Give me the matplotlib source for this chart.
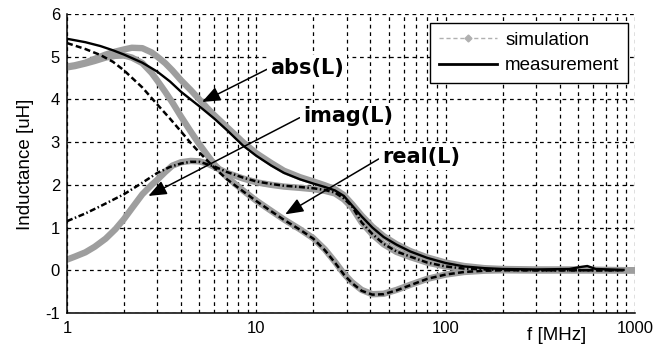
import matplotlib
matplotlib.use("Agg")
import matplotlib.pyplot as plt
from matplotlib.lines import Line2D

# ---- data -------------------------------------------------------------
# simulated inductance (black curves)
freq_sim = [1, 1.25, 1.5, 1.75, 2, 2.5, 3, 3.5, 4, 4.5, 5, 6, 7, 8.5, 10, 12, 14,
            17, 20, 23, 26, 29, 32, 36, 41, 47, 55, 65, 80, 100, 125, 160, 200,
            300, 450, 520, 560, 620, 870]
abs_sim = [5.42, 5.34, 5.25, 5.15, 5.05, 4.86, 4.65, 4.42, 4.18, 4.00, 3.84, 3.55,
           3.28, 2.92, 2.68, 2.45, 2.28, 2.13, 2.03, 1.95, 1.87, 1.74, 1.52, 1.26,
           1.00, 0.78, 0.60, 0.44, 0.29, 0.17, 0.09, 0.05, 0.03, 0.02, 0.03, 0.08,
           0.10, 0.03, 0.01]
real_sim = [5.32, 5.18, 5.04, 4.88, 4.68, 4.28, 3.88, 3.55, 3.25, 2.98, 2.76, 2.40,
            2.13, 1.85, 1.62, 1.38, 1.18, 0.95, 0.74, 0.47, 0.18, -0.10, -0.30,
            -0.48, -0.57, -0.56, -0.47, -0.35, -0.20, -0.10, -0.04, -0.01, 0.00,
            0.00, 0.00, 0.00, 0.00, 0.00, 0.00]
imag_sim = [1.15, 1.33, 1.50, 1.65, 1.78, 2.05, 2.28, 2.42, 2.50, 2.54, 2.54, 2.43,
            2.30, 2.17, 2.08, 2.02, 1.98, 1.95, 1.92, 1.88, 1.82, 1.68, 1.50, 1.12,
            0.85, 0.62, 0.44, 0.32, 0.18, 0.09, 0.04, 0.02, 0.01, 0.00, 0.00, 0.00,
            0.00, 0.00, 0.00]

# measured inductance (thick grey curves)
freq_meas = [1, 1.1, 1.25, 1.4, 1.6, 1.8, 2, 2.2, 2.5, 2.8, 3, 3.3, 3.6, 4, 4.5, 5,
             5.5, 6, 7, 8.5, 10, 12, 14, 17, 20, 23, 26, 29, 32, 36, 41, 47, 55, 65,
             80, 100, 125, 160, 200, 300, 500, 700, 1000]
abs_meas = [4.77, 4.80, 4.86, 4.95, 5.05, 5.12, 5.17, 5.21, 5.20, 5.10, 5.00, 4.85,
            4.68, 4.45, 4.22, 4.00, 3.80, 3.63, 3.35, 3.00, 2.74, 2.51, 2.33, 2.18,
            2.08, 1.99, 1.90, 1.76, 1.55, 1.28, 1.02, 0.80, 0.61, 0.45, 0.30, 0.18,
            0.10, 0.05, 0.03, 0.02, 0.02, 0.01, 0.00]
real_meas = [4.75, 4.78, 4.84, 4.90, 4.98, 5.02, 5.03, 4.98, 4.85, 4.62, 4.44, 4.18,
             3.93, 3.60, 3.25, 2.95, 2.70, 2.48, 2.18, 1.87, 1.63, 1.39, 1.19, 0.96,
             0.75, 0.49, 0.20, -0.08, -0.28, -0.46, -0.56, -0.55, -0.46, -0.34,
             -0.20, -0.10, -0.04, -0.01, 0.00, 0.00, 0.00, 0.00, 0.00]
imag_meas = [0.25, 0.32, 0.42, 0.55, 0.74, 0.96, 1.20, 1.45, 1.78, 2.00, 2.12, 2.30,
             2.45, 2.53, 2.56, 2.55, 2.50, 2.42, 2.28, 2.15, 2.06, 2.00, 1.96, 1.93,
             1.90, 1.86, 1.80, 1.66, 1.47, 1.12, 0.84, 0.61, 0.43, 0.31, 0.18, 0.09,
             0.04, 0.02, 0.01, 0.00, 0.00, 0.00, 0.00]

x_ticks = [1, 10, 100, 1000]
x_tick_labels = ["1", "10", "100", "1000"]
y_ticks = [-1, 0, 1, 2, 3, 4, 5, 6]

# curve annotations: label, label position, arrow tip (f [MHz], L [uH])
labels = ["abs(L)", "imag(L)", "real(L)"]
label_pos = [(11.8, 4.74), (17.6, 3.61), (46.0, 2.65)]
arrow_tip = [(5.17, 3.94), (2.69, 1.74), (14.2, 1.31)]

# ---- figure -----------------------------------------------------------
W, H = 672, 347
fig = plt.figure(figsize=(W / 100, H / 100), dpi=100)
ax = fig.add_axes([67 / W, 1 - 313 / H, 568 / W, 299 / H])

tick_font = "Liberation Sans"
grey = "#9e9e9e"

# measured curves: wide grey bands
for vals in (abs_meas, real_meas, imag_meas):
    ax.plot(freq_meas, vals, color=grey, lw=4.6, solid_capstyle="round",
            solid_joinstyle="round", zorder=3)

# simulated curves: thin black, one style per component
ax.plot(freq_sim, abs_sim, color="black", lw=1.7, zorder=4)
ax.plot(freq_sim, real_sim, color="black", lw=1.8, ls=(0, (2.4, 1.3)), zorder=4)
ax.plot(freq_sim, imag_sim, color="black", lw=1.8,
        ls=(0, (2.4, 1.0, 0.6, 1.0)), zorder=4)

ax.set_xscale("log")
ax.set_xlim(1, 1000)
ax.set_ylim(-1, 6)
ax.set_xticks(x_ticks)
ax.set_xticklabels(x_tick_labels)
ax.set_yticks(y_ticks)
ax.set_yticklabels([str(v) for v in y_ticks])

grid_style = dict(color="black", lw=0.9, ls=(0, (3, 3)))
ax.grid(True, which="major", axis="both", **grid_style)
ax.grid(True, which="minor", axis="x", **grid_style)
ax.set_axisbelow(True)

for side in ("top", "right"):
    ax.spines[side].set_visible(False)
for side in ("left", "bottom"):
    ax.spines[side].set_linewidth(1.1)
    ax.spines[side].set_zorder(5)

ax.tick_params(axis="both", which="both", direction="in", length=0)
ax.tick_params(axis="y", pad=5)
ax.tick_params(axis="x", pad=6)
for lab in ax.get_xticklabels() + ax.get_yticklabels():
    lab.set_fontfamily(tick_font)
    lab.set_fontsize(12)

fig.text(25 / W, 1 - 164 / H, "Inductance [uH]", rotation=90, ha="center",
         va="center", fontsize=13.5, family=tick_font)
fig.text(557 / W, 1 - 336 / H, "f [MHz]", ha="center", va="center",
         fontsize=13.5, family=tick_font)

# labels with arrows pointing at each component
for text, pos, tip in zip(labels, label_pos, arrow_tip):
    ax.annotate(text, xy=tip, xytext=pos, ha="left", va="center",
                fontsize=15, fontweight="bold", family="DejaVu Sans",
                bbox=dict(boxstyle="square,pad=0.15", fc="white", ec="none"),
                arrowprops=dict(arrowstyle="-|>,head_length=0.55,head_width=0.22",
                                mutation_scale=20, color="black", lw=1.1,
                                shrinkA=0, shrinkB=0, relpos=(0, 0.5)),
                zorder=6)

# legend
handles = [
    Line2D([], [], color="#b0b0b0", lw=1.0, ls=(0, (3, 2)), marker="D",
           markersize=3.5, markerfacecolor="#b0b0b0", markeredgecolor="#b0b0b0"),
    Line2D([], [], color="black", lw=2.0),
]
leg = ax.legend(handles, ["simulation", "measurement"], loc="upper right",
                bbox_to_anchor=(628 / W, 1 - 23 / H), bbox_transform=fig.transFigure,
                borderaxespad=0, frameon=True, fancybox=False, framealpha=1,
                edgecolor="black", handlelength=3.1, handletextpad=0.45,
                labelspacing=0.45, borderpad=0.45, numpoints=1,
                prop=dict(family=tick_font, size=13.5))
leg.get_frame().set_linewidth(1.0)
leg.set_zorder(10)

fig.savefig("out.png", dpi=100, facecolor="white")
